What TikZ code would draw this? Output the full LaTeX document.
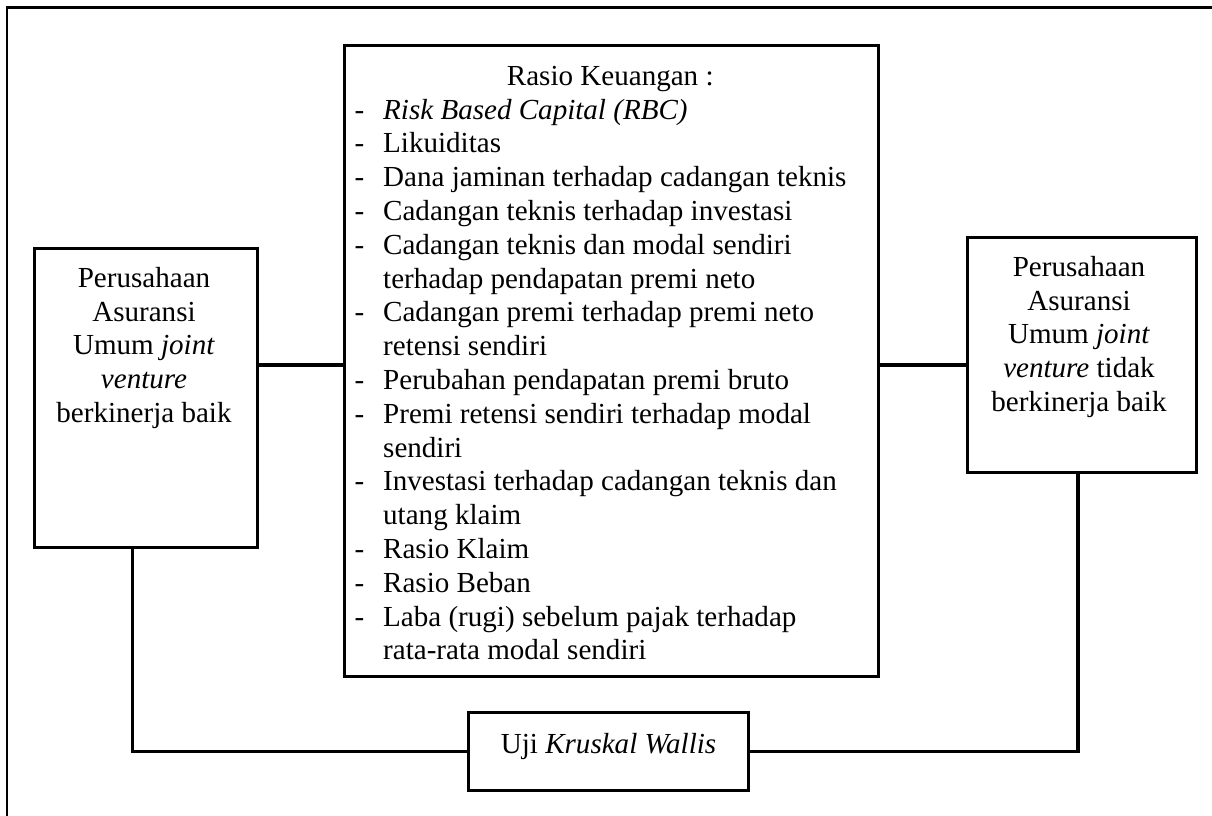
\documentclass[tikz,border=0pt]{standalone}
\usepackage{fontspec}
\setmainfont{Liberation Serif}
\newlength{\dashw}
\setlength{\dashw}{21.4pt}
\begin{document}
\begin{tikzpicture}[x=0.75pt,y=-0.75pt,
  box/.style={draw, line width=2.3pt, inner sep=0pt, anchor=north west},
  txt/.style={inner sep=0pt, font=\fontsize{21.8}{25.35}\selectfont},
  link/.style={line width=2.3pt}]
\useasboundingbox (0,0) rectangle (1212,816);
% outer frame (only left and top edges visible)
\draw[line width=1.7pt, line join=miter] (7,816) -- (7,7.5) -- (1212,7.5);
% boxes
\node[box, minimum width=167.25pt, minimum height=224.25pt] (lb) at (32.5,247) {};
\node[box, minimum width=400.5pt, minimum height=473.25pt] (mid) at (343,44) {};
\node[box, minimum width=171.75pt, minimum height=176.25pt] (rb) at (966,236) {};
\node[box, txt, minimum width=210pt, minimum height=58.5pt, text height=14.6pt, text depth=11.6pt] (uji) at (467,711) {Uji \textit{Kruskal Wallis}};
% texts
\node[txt, anchor=north, align=center] (lbt) at (144,263.3) {\strut Perusahaan\\Asuransi\\Umum \textit{joint}\\\textit{venture}\\berkinerja baik};
\node[txt, anchor=north, align=center] (rbt) at (1079,252.3) {\strut Perusahaan\\Asuransi\\Umum \textit{joint}\\\textit{venture} tidak\\berkinerja baik};
\node[txt, anchor=north west, align=left] (midt) at (354.4,61.3) {%
\strut\makebox[383.4pt][c]{Rasio Keuangan :}\\
\makebox[\dashw][l]{-}\textit{Risk Based Capital (RBC)}\\
\makebox[\dashw][l]{-}Likuiditas\\
\makebox[\dashw][l]{-}Dana jaminan terhadap cadangan teknis\\
\makebox[\dashw][l]{-}Cadangan teknis terhadap investasi\\
\makebox[\dashw][l]{-}Cadangan teknis dan modal sendiri\\
\hspace*{\dashw}terhadap pendapatan premi neto\\
\makebox[\dashw][l]{-}Cadangan premi terhadap premi neto\\
\hspace*{\dashw}retensi sendiri\\
\makebox[\dashw][l]{-}Perubahan pendapatan premi bruto\\
\makebox[\dashw][l]{-}Premi retensi sendiri terhadap modal\\
\hspace*{\dashw}sendiri\\
\makebox[\dashw][l]{-}Investasi terhadap cadangan teknis dan\\
\hspace*{\dashw}utang klaim\\
\makebox[\dashw][l]{-}Rasio Klaim\\
\makebox[\dashw][l]{-}Rasio Beban\\
\makebox[\dashw][l]{-}Laba (rugi) sebelum pajak terhadap\\
\hspace*{\dashw}rata-rata modal sendiri};
% connectors
\coordinate (cy) at (0,365);
\coordinate (lx) at (132.5,0);
\coordinate (rx) at (1078,0);
\draw[link] (lb.east |- cy) -- (mid.west |- cy);
\draw[link] (mid.east |- cy) -- (rb.west |- cy);
\draw[link] (lb.south -| lx) |- (uji.west);
\draw[link] (uji.east) -| (rb.south -| rx);
\end{tikzpicture}
\end{document}
